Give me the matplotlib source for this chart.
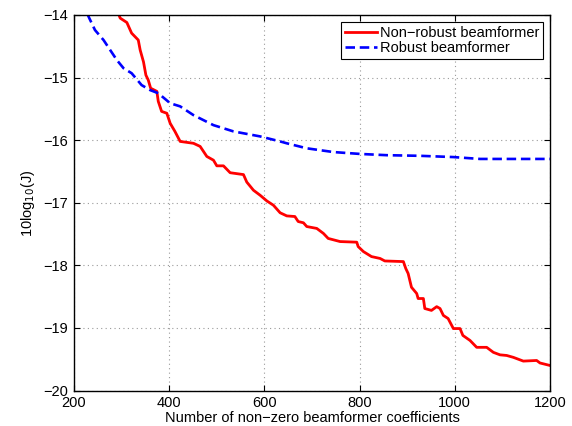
import matplotlib
matplotlib.use("Agg")
import matplotlib.pyplot as plt

plt.rcParams['font.family'] = ['Liberation Sans', 'DejaVu Sans']

# Non-robust beamformer
nr_x = [293, 297, 311, 321, 335, 339, 346, 351, 356, 361, 374, 377, 384, 395, 402, 412, 423,
        451, 465, 479, 493, 500, 514, 528, 556, 563, 577, 591, 605, 619, 633, 647, 664, 671,
        682, 689, 710, 724, 734, 759, 794, 797, 808, 825, 843, 853, 892, 897, 902, 909, 920,
        923, 934, 937, 951, 962, 969, 976, 986, 997, 1011, 1017, 1032, 1046, 1067, 1081,
        1095, 1109, 1123, 1144, 1172, 1179, 1200]
nr_y = [-13.97, -14.05, -14.12, -14.29, -14.40, -14.56, -14.75, -14.96, -15.04, -15.17, -15.22,
        -15.38, -15.54, -15.57, -15.73, -15.86, -16.02, -16.05, -16.10, -16.26, -16.32, -16.41,
        -16.41, -16.52, -16.55, -16.67, -16.80, -16.88, -16.97, -17.04, -17.16, -17.21, -17.22,
        -17.30, -17.32, -17.38, -17.41, -17.49, -17.57, -17.62, -17.63, -17.70, -17.78, -17.86,
        -17.89, -17.93, -17.94, -18.05, -18.13, -18.35, -18.45, -18.53, -18.53, -18.69, -18.72,
        -18.66, -18.69, -18.80, -18.85, -19.01, -19.01, -19.12, -19.20, -19.31, -19.31, -19.39,
        -19.43, -19.44, -19.47, -19.53, -19.52, -19.56, -19.60]

# Robust beamformer
r_x = [228, 232, 244, 262, 276, 290, 304, 321, 342, 360, 377, 402, 423, 451, 493, 535, 591,
       633, 647, 689, 745, 801, 857, 927, 997, 1053, 1200]
r_y = [-13.98, -14.05, -14.24, -14.40, -14.56, -14.72, -14.85, -14.93, -15.12, -15.20, -15.25,
       -15.41, -15.46, -15.60, -15.76, -15.86, -15.94, -16.02, -16.05, -16.13, -16.19, -16.22,
       -16.24, -16.25, -16.27, -16.30, -16.30]

xticks = [200, 400, 600, 800, 1000, 1200]
yticks = [-20, -19, -18, -17, -16, -15, -14]

fig = plt.figure(figsize=(5.72, 4.26), dpi=100)
ax = fig.add_axes([0.1294, 0.0833, 0.8321, 0.8815])
ax.plot(nr_x, nr_y, color='#ff0000', lw=2.0, label='Non\u2212robust beamformer')
ax.plot(r_x, r_y, color='#0000ff', lw=1.9, ls=(0, (3.6, 1.8)), label='Robust beamformer')
ax.set_xlim(200, 1200)
ax.set_ylim(-20, -14)
ax.set_xticks(xticks)
ax.set_yticks(yticks)
ax.set_yticklabels(['\u2212%d' % abs(v) for v in yticks])
ax.tick_params(direction='in', top=True, right=True, labelsize=10.5, length=4, width=0.8, pad=4)
ax.grid(True, ls=(0, (1, 3)), color='#999999', lw=0.8)
for s in ax.spines.values():
    s.set_linewidth(1.0)
ax.set_xlabel('Number of non\u2212zero beamformer coefficients', fontsize=10.5, labelpad=1)
ax.set_ylabel('10log$_{10}$(J)', fontsize=10.5, labelpad=5)
leg = ax.legend(loc='upper right', fontsize=10.5, fancybox=False, framealpha=1,
                edgecolor='black', borderpad=0.25, handlelength=2.2, handletextpad=0.2,
                labelspacing=0.1, borderaxespad=0.5)
leg.get_frame().set_linewidth(0.8)
fig.savefig('out.png', dpi=100)
